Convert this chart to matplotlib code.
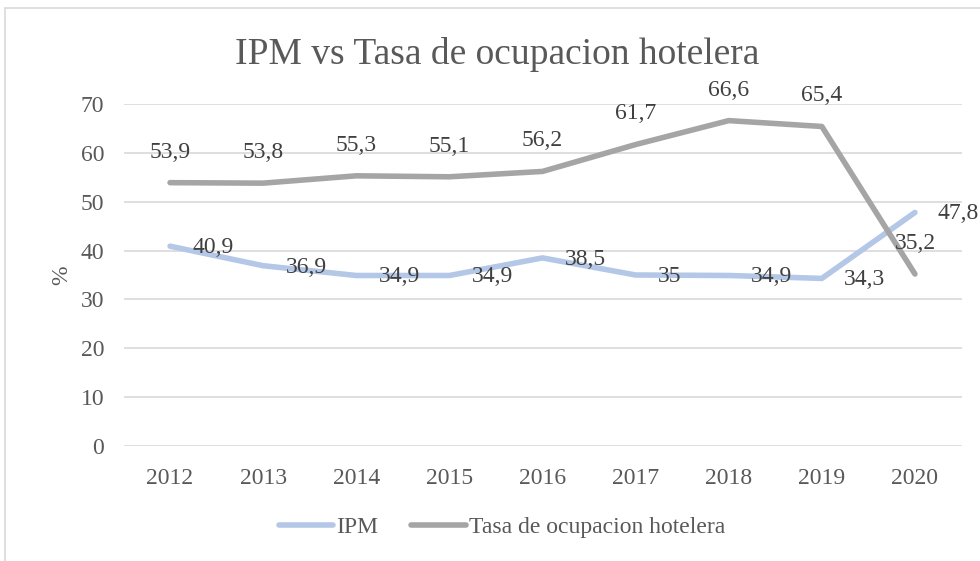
import matplotlib
matplotlib.use("Agg")
import matplotlib.pyplot as plt
from matplotlib.patches import Rectangle
from matplotlib.lines import Line2D

years = ["2012", "2013", "2014", "2015", "2016", "2017", "2018", "2019", "2020"]
ipm = [40.9, 36.9, 34.9, 34.9, 38.5, 35.0, 34.9, 34.3, 47.8]
tasa = [53.9, 53.8, 55.3, 55.1, 56.2, 61.7, 66.6, 65.4, 35.2]
ipm_labels = ["40,9", "36,9", "34,9", "34,9", "38,5", "35", "34,9", "34,3", "47,8"]
tasa_labels = ["53,9", "53,8", "55,3", "55,1", "56,2", "61,7", "66,6", "65,4", "35,2"]
yticks = [0, 10, 20, 30, 40, 50, 60, 70]

plt.rcParams['font.family'] = ['Liberation Serif', 'DejaVu Serif']
txt = '#595959'
lbl = '#404040'
fs = 17
W, H = 980, 561
fig = plt.figure(figsize=(W/100, H/100), dpi=100)

# chart frame (cropped on right/bottom)
fig.patches.append(Rectangle((5/W, -0.1), 1.2, 1.1 - 8/H, transform=fig.transFigure,
                             fill=False, edgecolor='#d9d9d9', linewidth=1.2))

ax = fig.add_axes([123.5/W, 1 - 446/H, (961.5-123.5)/W, (446-104)/H])
x = list(range(len(years)))
ax.set_xlim(-0.5, len(years) - 0.5)
ax.set_ylim(0, 70)
ax.set_yticks(yticks)
ax.set_xticks(x)
ax.set_xticklabels(years)
ax.grid(axis='y', color='#d9d9d9', linewidth=1.2)
ax.set_axisbelow(True)
for s in ax.spines.values():
    s.set_visible(False)
ax.tick_params(length=0, labelsize=fs, colors=txt)
ax.tick_params(axis='x', pad=16)
ax.tick_params(axis='y', pad=14)

ax.plot(x, ipm, color='#b4c7e7', lw=4, solid_capstyle='round', solid_joinstyle='round')
ax.plot(x, tasa, color='#a5a5a5', lw=4, solid_capstyle='round', solid_joinstyle='round')

for xi, v, l in zip(x, ipm, ipm_labels):
    ax.annotate(l, (xi, v), xytext=(16, -1), textcoords='offset points',
                ha='left', va='center', fontsize=fs, color=lbl, clip_on=False)
for xi, v, l in zip(x, tasa, tasa_labels):
    ax.annotate(l, (xi, v), xytext=(0, 22), textcoords='offset points',
                ha='center', va='center', fontsize=fs, color=lbl, clip_on=False)

ax.set_ylabel('%', fontsize=fs, color=txt, labelpad=6)

fig.text(497/W, 1 - 64/H, 'IPM vs Tasa de ocupacion hotelera', ha='center', va='baseline',
         fontsize=27, color=txt)

handles = [Line2D([], [], color='#b4c7e7', lw=4, solid_capstyle='round'),
           Line2D([], [], color='#a5a5a5', lw=4, solid_capstyle='round')]
fig.legend(handles, ['IPM', 'Tasa de ocupacion hotelera'], loc='center',
           bbox_to_anchor=(502/W, 1 - 527/H), ncol=2, frameon=False, fontsize=fs,
           labelcolor=txt, handlelength=2.3, handletextpad=0.15, columnspacing=1.4)

fig.savefig('out.png', dpi=100)
